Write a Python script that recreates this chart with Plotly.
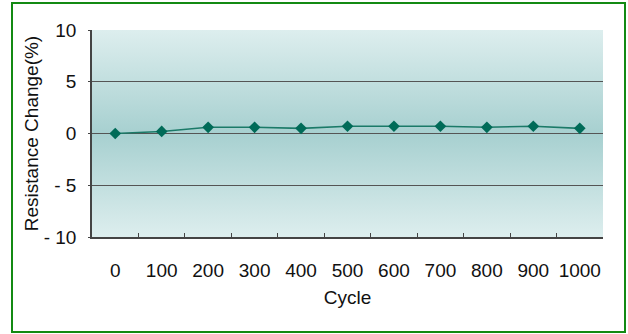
import base64
import plotly.graph_objects as go

cycles = ["0", "100", "200", "300", "400", "500", "600", "700", "800", "900", "1000"]
resistance_change = [0.0, 0.2, 0.6, 0.6, 0.5, 0.7, 0.7, 0.7, 0.6, 0.7, 0.5]
y_ticks = [-10, -5, 0, 5, 10]
y_tick_labels = ["- 10", "- 5", "0", "5", "10"]

W, H = 628, 334
ML, MR, MT, MB = 92, 25, 30, 97
PW, PH = W - ML - MR, H - MT - MB

svg = ('<svg xmlns="http://www.w3.org/2000/svg" viewBox="0 0 10 100" width="10" height="100" '
       'preserveAspectRatio="none"><defs><linearGradient id="g" x1="0" y1="0" x2="0" y2="1">'
       '<stop offset="0" stop-color="#ddeeee"/><stop offset="0.5" stop-color="#a7d0d0"/>'
       '<stop offset="1" stop-color="#ddeeee"/></linearGradient></defs>'
       '<rect x="0" y="0" width="10" height="100" fill="url(#g)"/></svg>')
src = "data:image/svg+xml;base64," + base64.b64encode(svg.encode()).decode()

font = "Liberation Sans, Arial, sans-serif"

fig = go.Figure()
fig.add_trace(go.Scatter(
    x=cycles, y=resistance_change, mode="lines+markers",
    line=dict(color="#1b7a68", width=1.6),
    marker=dict(symbol="diamond", size=9, color="#006b58"),
    showlegend=False, hoverinfo="skip",
))

def px_to_paper_x(px):
    return (px - ML) / PW

def px_to_paper_y(py):
    return (H - MB - py) / PH

fig.update_layout(
    width=W, height=H,
    margin=dict(l=ML, r=MR, t=MT, b=MB),
    paper_bgcolor="white",
    plot_bgcolor="rgba(0,0,0,0)",
    font=dict(family=font, color="#111111", size=18),
    images=[dict(source=src, xref="paper", yref="paper", x=0, y=1, sizex=1, sizey=1,
                 xanchor="left", yanchor="top", sizing="stretch", layer="below")],
    shapes=[dict(type="rect", xref="paper", yref="paper",
                 x0=px_to_paper_x(12), x1=px_to_paper_x(625),
                 y0=px_to_paper_y(332), y1=px_to_paper_y(3),
                 line=dict(color="#138a13", width=2), fillcolor="rgba(0,0,0,0)")],
    xaxis=dict(
        type="category", tickson="boundaries", ticks="inside", ticklen=4,
        tickcolor="#444444", showline=True, linecolor="#444444", linewidth=1.5,
        showgrid=False, ticklabelstandoff=15, tickangle=0, tickfont=dict(size=19),
        title=dict(text="Cycle", font=dict(size=19), standoff=11),
        range=[-0.5, 10.5],
    ),
    yaxis=dict(
        range=[-10, 10], tickvals=y_ticks, ticktext=y_tick_labels,
        ticks="outside", ticklen=2, tickcolor="#444444",
        showline=True, linecolor="#444444", linewidth=1.5,
        showgrid=True, gridcolor="#555555", gridwidth=1,
        zeroline=True, zerolinecolor="#555555", zerolinewidth=1,
        ticklabelstandoff=8, tickfont=dict(size=19),
        title=dict(text="Resistance Change(%)", font=dict(size=19), standoff=0),
    ),
)

fig.write_html("out.html")
